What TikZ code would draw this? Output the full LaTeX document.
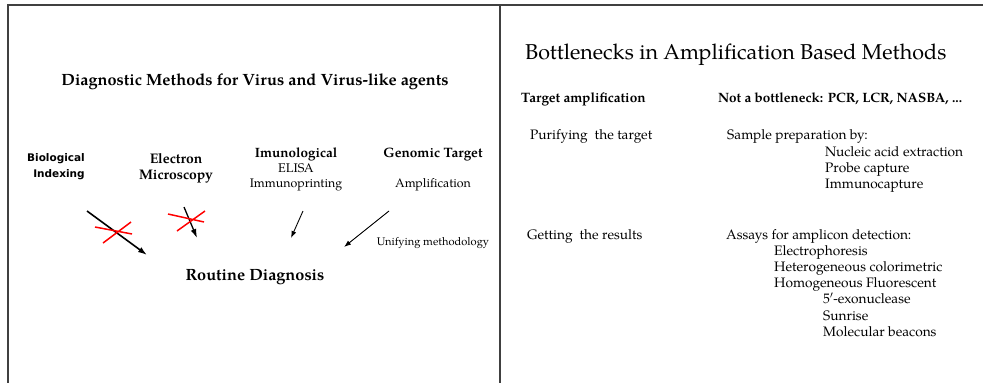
\documentclass[tikz,border=0pt]{standalone}
\usepackage{fontspec}
\setmainfont{texgyrepagella}[Extension=.otf, UprightFont=*-regular, BoldFont=*-bold, ItalicFont=*-italic, BoldItalicFont=*-bolditalic]
\newfontfamily\handfont{DejaVu Sans}
\usetikzlibrary{arrows.meta}

\begin{document}
\begin{tikzpicture}[
    x=1pt, y=-1pt,
    frame/.style={draw=black!75, line width=1.4pt},
    txt/.style={inner sep=0pt, anchor=base west, text height=9.5pt, text depth=2.8pt, font=\fontsize{13.7}{16}\selectfont},
    ctr/.style={inner sep=0pt, anchor=base},
    arrow/.style={-{Latex[length=9pt,width=6pt]}, line width=1.6pt},
    thin arrow/.style={-{Latex[length=7pt,width=5pt]}, line width=0.9pt},
    cross/.style={draw=red, line width=1.5pt}
]
    \useasboundingbox (0,0) rectangle (983,383);
    \draw[frame] (8,383) -- (8,5) -- (983,5);
    \draw[frame] (500,5) -- (500,383);

    % left panel
    \node[ctr, font=\bfseries\fontsize{16.3}{18}\selectfont] (diag) at (255,85) {Diagnostic Methods for Virus and Virus-like agents};

    \node[ctr, font=\handfont\bfseries\fontsize{10.5}{12}\selectfont] (bio1) at (56,161) {Biological};
    \node[ctr, font=\handfont\bfseries\fontsize{10.5}{12}\selectfont] (bio2) at (59,177) {Indexing};
    \node[ctr, font=\bfseries\fontsize{13.9}{16}\selectfont] (em1) at (176,163) {Electron};
    \node[ctr, font=\bfseries\fontsize{13.9}{16}\selectfont] (em2) at (176,179) {Microscopy};
    \node[ctr, font=\bfseries\fontsize{13.5}{16}\selectfont] (imm1) at (296,157) {Imunological};
    \node[ctr, font=\fontsize{12.6}{14}\selectfont] (imm2) at (296,172) {ELISA};
    \node[ctr, font=\fontsize{12.4}{14}\selectfont] (imm3) at (296,187) {Immunoprinting};
    \node[ctr, font=\bfseries\fontsize{13.6}{16}\selectfont] (gen1) at (433,157) {Genomic Target};
    \node[ctr, font=\fontsize{12.4}{14}\selectfont] (gen2) at (433,187) {Amplification};
    \node[ctr, font=\fontsize{11.1}{13}\selectfont] (unify) at (433,245) {Unifying methodology};
    \node[ctr, font=\bfseries\fontsize{16.3}{18}\selectfont] (routine) at (255,280) {Routine Diagnosis};

    \coordinate (a1) at (87,211);  \coordinate (b1) at (147,255);
    \coordinate (a2) at (184,207); \coordinate (b2) at (197,238);
    \coordinate (a3) at (303,211); \coordinate (b3) at (291,238);
    \coordinate (a4) at (389,211); \coordinate (b4) at (344,247);
    \draw[arrow] (a1) -- (b1);
    \draw[arrow, line width=1.3pt] (a2) -- (b2);
    \draw[thin arrow] (a3) -- (b3);
    \draw[thin arrow] (a4) -- (b4);

    % crossed-out routes
    \draw[cross] (95,227) -- (132,234) (103,243) -- (131,222);
    \draw[cross] (168,214) -- (204,222) (177,231) -- (205,211);

    % right panel
    \node[txt, font=\fontsize{21.5}{24}\selectfont, text height=15pt, text depth=4.5pt] (bneck) at (525,59) {Bottlenecks in Amplification Based Methods};
    \node[txt, font=\bfseries\fontsize{13.6}{16}\selectfont] (tamp) at (521,102) {Target amplification};
    \node[txt, font=\bfseries\fontsize{13.5}{16}\selectfont] (notb) at (718,102) {Not a bottleneck: PCR, LCR, NASBA, ...};

    \node[txt] (purify) at (530,139) {Purifying\ \ the target};
    \node[txt] (sample) at (727,139) {Sample preparation by:};
    \node[txt] (nucl) at (825,156) {Nucleic acid extraction};
    \node[txt] (probe) at (825,172) {Probe capture};
    \node[txt] (immcap) at (825,188) {Immunocapture};

    \node[txt] (getting) at (527,239) {Getting\ \ the results};
    \node[txt] (assays) at (726,239) {Assays for amplicon detection:};
    \node[txt] (electro) at (774,255) {Electrophoresis};
    \node[txt] (hetero) at (774,271.3) {Heterogeneous colorimetric};
    \node[txt] (homo) at (774,287.6) {Homogeneous Fluorescent};
    \node[txt] (exo) at (823,303.9) {5$'$-exonuclease};
    \node[txt] (sunrise) at (823,320.2) {Sunrise};
    \node[txt] (beacons) at (823,336.5) {Molecular beacons};
\end{tikzpicture}
\end{document}
